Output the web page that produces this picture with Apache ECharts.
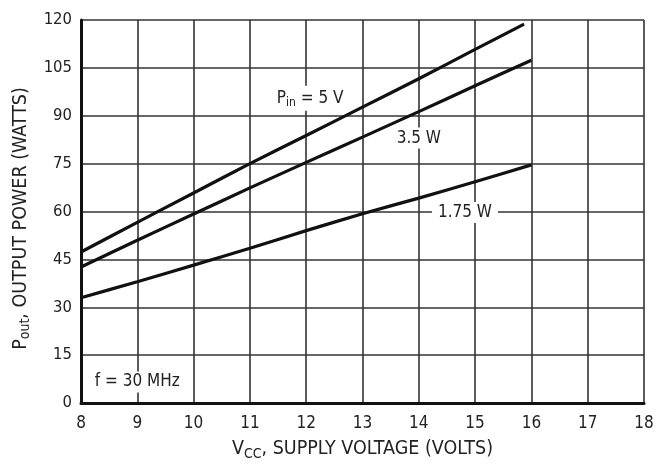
<!DOCTYPE html>
<html>
<head>
<meta charset="utf-8">
<script src="https://cdn.jsdelivr.net/npm/echarts@6/dist/echarts.min.js"></script>
<style>
  html, body { margin: 0; padding: 0; background: #fff; }
  #chart { width: 660px; height: 466px; }
</style>
</head>
<body>
<div id="chart"></div>
<script>
// supply voltage (V) and output power (W)
var vcc = [8, 9, 10, 11, 12, 13, 14, 15, 16];
var vcc5 = [8, 9, 10, 11, 12, 13, 14, 15, 15.87];
var pout5 = [47.3, 56.6, 65.8, 75, 83.8, 92.7, 101.6, 110.8, 118.7];
var pout35 = [42.6, 51.0, 59.2, 67.4, 75.4, 83.3, 91.3, 99.4, 107.4];
var pout175 = [33.0, 38.0, 43.2, 48.5, 54.0, 59.3, 64.2, 69.3, 74.6];
var xTicks = [8, 18, 1];
var yTicks = [0, 120, 15];

var font = '"DejaVu Sans Condensed", "Liberation Sans", Arial, sans-serif';

function pairs(xs, ys) {
  return xs.map(function (x, i) { return [x, ys[i]]; });
}

function richText(size) {
  return {
    n: { fontFamily: font, fontSize: size, color: '#222' },
    sub: { fontFamily: font, fontSize: Math.round(size * 0.72), color: '#222', padding: [Math.round(size / 2), 0, 0, 0] }
  };
}

function note(x, y, text) {
  return {
    coord: [x, y],
    symbol: 'rect',
    symbolSize: 1,
    itemStyle: { color: 'rgba(0,0,0,0)' },
    label: {
      show: true,
      position: 'inside',
      formatter: text,
      color: '#222',
      fontFamily: font,
      fontSize: 17,
      backgroundColor: '#fff',
      padding: [2, 6, 2, 6],
      rich: richText(17)
    }
  };
}

function curve(name, xs, ys, notes) {
  return {
    name: name,
    type: 'line',
    data: pairs(xs, ys),
    smooth: 0.2,
    showSymbol: false,
    lineStyle: { color: '#111', width: 3.2 },
    silent: true,
    z: 3,
    markPoint: notes ? { silent: true, data: notes, z: 5 } : undefined
  };
}

var chart = echarts.init(document.getElementById('chart'), null, { renderer: 'canvas' });
chart.setOption({
  animation: false,
  backgroundColor: '#fff',
  grid: { left: 81, right: 16, top: 20, bottom: 63 },
  xAxis: {
    type: 'value',
    min: xTicks[0], max: xTicks[1], interval: xTicks[2],
    axisLine: { show: true, onZero: false, lineStyle: { color: '#111', width: 3 } },
    axisTick: { show: false },
    axisLabel: { color: '#222', fontFamily: font, fontSize: 17, margin: 12 },
    splitLine: { show: true, lineStyle: { color: '#333', width: 1.6 } },
    name: '{n|V}{sub|CC}{n|, SUPPLY VOLTAGE (VOLTS)}',
    nameLocation: 'middle',
    nameGap: 34,
    nameTextStyle: { rich: richText(19.5) }
  },
  yAxis: {
    type: 'value',
    min: yTicks[0], max: yTicks[1], interval: yTicks[2],
    axisLine: { show: true, onZero: false, lineStyle: { color: '#111', width: 3 } },
    axisTick: { show: false },
    axisLabel: { color: '#222', fontFamily: font, fontSize: 16.5, margin: 9 },
    splitLine: { show: true, lineStyle: { color: '#333', width: 1.6 } },
    name: '{n|P}{sub|out}{n|, OUTPUT POWER (WATTS)}',
    nameLocation: 'middle',
    nameRotate: 90,
    nameGap: 48,
    nameTextStyle: { rich: richText(19.5), padding: [0, 14, 0, 0] }
  },
  series: [
    curve('5 V', vcc5, pout5, [note(12.07, 95.5, '{n|P}{sub|in}{n| = 5 V}')]),
    curve('3.5 W', vcc, pout35, [note(14.0, 83, '3.5 W')]),
    curve('1.75 W', vcc, pout175, [note(14.82, 59.7, '1.75 W'), note(9.0, 6.6, 'f = 30 MHz')])
  ]
});
</script>
</body>
</html>
